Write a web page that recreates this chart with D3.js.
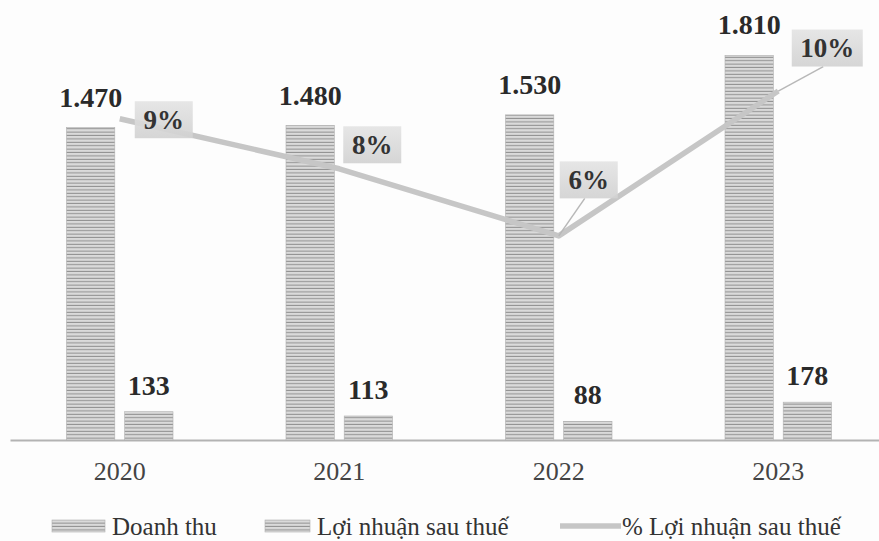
<!DOCTYPE html>
<html>
<head>
<meta charset="utf-8">
<script src="https://cdn.jsdelivr.net/npm/d3@7"></script>
<style>
  body { margin: 0; background: #fdfdfd; }
  svg { display: block; font-family: "Liberation Serif", "Times New Roman", serif; }
</style>
</head>
<body>
<svg id="chart" width="879" height="541"></svg>
<script>
const years = ["2020", "2021", "2022", "2023"];
const revenue = [1470, 1480, 1530, 1810];
const profit = [133, 113, 88, 178];
const margin = [9.05, 7.64, 5.75, 9.83];
const seriesNames = ["Doanh thu", "Lợi nhuận sau thuế", "% Lợi nhuận sau thuế"];

// where each % label box sits, relative to its point (dx, dy of box centre)
const pctOffsets = [[44, 1], [33, -24], [30, -56], [49, -43]];

const svg = d3.select("#chart");

const defs = svg.append("defs");
const pat = defs.append("pattern")
  .attr("id", "stripes")
  .attr("patternUnits", "userSpaceOnUse")
  .attr("width", 8)
  .attr("height", 3.4);
pat.append("rect").attr("width", 8).attr("height", 3.4).attr("fill", "#dadada");
pat.append("line")
  .attr("x1", 0).attr("x2", 8).attr("y1", 2.9).attr("y2", 2.9)
  .attr("stroke", "#8f8f8f").attr("stroke-width", 1);

const grad = defs.append("linearGradient")
  .attr("id", "boxfill")
  .attr("x1", 0).attr("y1", 0).attr("x2", 0).attr("y2", 1);
grad.append("stop").attr("offset", "0%").attr("stop-color", "#e4e4e4");
grad.append("stop").attr("offset", "100%").attr("stop-color", "#d2d2d2");

const x0 = d3.scaleBand().domain(years).range([10, 888]);
const x1 = d3.scaleBand().domain([0, 1]).range([56.5, 163]).paddingInner(0.17);
const y = d3.scaleLinear().domain([0, 2000]).range([440, 15]);
const y2 = d3.scaleLinear().domain([0, 12]).range([440, 14]);

const cx = (i) => x0(years[i]) + x0.bandwidth() / 2;

// x axis
const xAxis = svg.append("g")
  .attr("transform", "translate(0,440)")
  .call(d3.axisBottom(x0).tickSize(0).tickSizeOuter(0).tickPadding(21.5));
xAxis.select(".domain").attr("stroke", "#b3b3b3").attr("stroke-width", 2);
xAxis.selectAll("text")
  .attr("font-family", "Liberation Serif, Times New Roman, serif")
  .attr("font-size", 26)
  .attr("fill", "#444");

// bars
const rows = years.map((yr, i) => ({ yr, vals: [revenue[i], profit[i]] }));
const groups = svg.append("g")
  .selectAll("g")
  .data(rows)
  .enter()
  .append("g")
  .attr("transform", (d) => `translate(${x0(d.yr)},0)`);

groups.selectAll("rect")
  .data((d) => d.vals)
  .enter()
  .append("rect")
  .attr("x", (d, j) => x1(j))
  .attr("width", x1.bandwidth())
  .attr("y", (d) => y(d))
  .attr("height", (d) => y(0) - y(d))
  .attr("fill", "url(#stripes)")
  .attr("stroke", "#b0b0b0")
  .attr("stroke-width", 0.6);

groups.selectAll("text.val")
  .data((d) => d.vals)
  .enter()
  .append("text")
  .attr("class", "val")
  .attr("x", (d, j) => x1(j) + x1.bandwidth() / 2)
  .attr("y", (d, j) => y(d) - (j === 0 ? 21 : 17))
  .attr("text-anchor", "middle")
  .attr("font-size", 28)
  .attr("font-weight", "bold")
  .attr("fill", "#2a2a2a")
  .text((d) => d3.format(",")(d).replace(/,/g, "."));

// % line
const line = d3.line()
  .x((d, i) => cx(i))
  .y((d) => y2(d));

svg.append("path")
  .datum(margin)
  .attr("d", line)
  .attr("fill", "none")
  .attr("stroke", "#c6c6c6")
  .attr("stroke-width", 5.5)
  .attr("stroke-linejoin", "round");

// % labels
const pct = svg.append("g")
  .selectAll("g")
  .data(margin)
  .enter()
  .append("g");

pct.each(function (d, i) {
  const g = d3.select(this);
  const px = cx(i), py = y2(d);
  const bx = px + pctOffsets[i][0], by = py + pctOffsets[i][1];
  const label = Math.round(d) + "%";
  const w = label.length > 2 ? 71 : 58, h = 37;
  if (Math.abs(pctOffsets[i][1]) > 40) {
    g.append("line")
      .attr("x1", px).attr("y1", py)
      .attr("x2", bx - 4).attr("y2", by + h / 2)
      .attr("stroke", "#b8b8b8").attr("stroke-width", 1.5);
  }
  g.append("rect")
    .attr("x", bx - w / 2).attr("y", by - h / 2)
    .attr("width", w).attr("height", h)
    .attr("fill", "url(#boxfill)")
    .attr("opacity", 0.92);
  g.append("text")
    .attr("x", bx).attr("y", by + 9)
    .attr("text-anchor", "middle")
    .attr("font-size", 27)
    .attr("font-weight", "bold")
    .attr("fill", "#333")
    .text(label);
});

// legend
const legend = svg.append("g").attr("font-size", 25).attr("fill", "#333");
const legendX = [52, 265, 560];
const legendW = [53, 45, 61];
seriesNames.forEach((name, i) => {
  if (i < 2) {
    legend.append("rect")
      .attr("x", legendX[i]).attr("y", 520)
      .attr("width", legendW[i]).attr("height", 12)
      .attr("fill", "url(#stripes)")
      .attr("stroke", "#b0b0b0").attr("stroke-width", 0.6);
  } else {
    legend.append("line")
      .attr("x1", legendX[i]).attr("x2", legendX[i] + legendW[i])
      .attr("y1", 526).attr("y2", 526)
      .attr("stroke", "#c6c6c6").attr("stroke-width", 5.5);
  }
  legend.append("text")
    .attr("x", legendX[i] + legendW[i] + (i === 2 ? 1 : 7))
    .attr("y", 535)
    .attr("fill", "#333")
    .text(name);
});
</script>
</body>
</html>
